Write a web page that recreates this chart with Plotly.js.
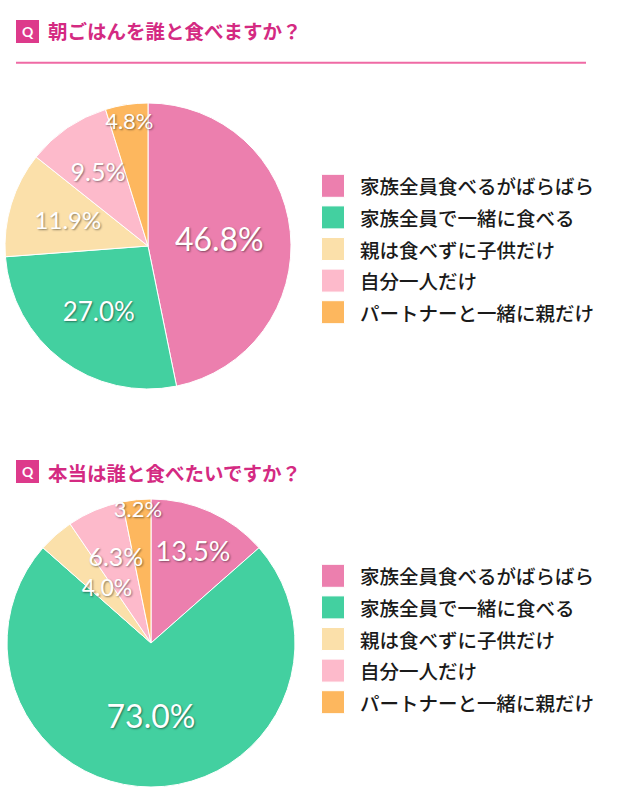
<!DOCTYPE html>
<html>
<head>
<meta charset="utf-8">
<script src="https://cdn.plot.ly/plotly-3.0.1.min.js"></script>
<style>
html,body{margin:0;padding:0;background:#fff;}
#chart{width:618px;height:800px;}
</style>
</head>
<body>
<div id="chart"></div>
<script>
// ---- data ----
const categories = ['家族全員食べるがばらばら', '家族全員で一緒に食べる', '親は食べずに子供だけ', '自分一人だけ', 'パートナーと一緒に親だけ'];
const actualValues = [46.8, 27.0, 11.9, 9.5, 4.8];   // 朝ごはんを誰と食べますか？
const idealValues = [13.5, 73.0, 4.0, 6.3, 3.2];     // 本当は誰と食べたいですか？
const titles = ['朝ごはんを誰と食べますか？', '本当は誰と食べたいですか？'];
const sliceColors = ['#ec7fae', '#43d0a0', '#fbe0aa', '#fdbacb', '#fdb75e'];

// ---- layout helpers ----
const W = 618, H = 800;
const px = v => v / W;
const py = v => (H - v) / H;
const dom = (cx, cy, r) => ({x: [px(cx - r), px(cx + r)], y: [py(cy + r), py(cy - r)]});
const PCT = '%{percent:.1%}';

const legendLabels = categories.map(c => '<span style="font-size:19.5px">' + c + '</span>');

// labelRatios: per slice, null = label drawn by the main pie; a number = label drawn
// by a transparent copy of the pie at that fraction of the radius (pulls the label inward)
function makePies(values, cx, cy, r, sizes, labelRatios, legendId) {
  const base = {
    type: 'pie', labels: legendLabels, values: values,
    sort: false, direction: 'clockwise', rotation: 0,
    textposition: 'inside', insidetextorientation: 'horizontal',
    textfont: {family: 'Lato, sans-serif', color: '#ffffff', size: sizes,
               shadow: '1px 1px 2px rgba(0,0,0,0.45)'}
  };
  const out = [Object.assign({}, base, {
    domain: dom(cx, cy, r),
    marker: {colors: sliceColors, line: {color: '#ffffff', width: 1}},
    texttemplate: labelRatios.map(k => k === null ? PCT : ''),
    hoverinfo: 'label+percent',
    legend: legendId, legendgroup: legendId
  })];
  const ratios = [...new Set(labelRatios.filter(k => k !== null))];
  ratios.forEach((k, j) => {
    out.push(Object.assign({}, base, {
      domain: dom(cx, cy, r * k),
      marker: {colors: values.map(() => 'rgba(0,0,0,0)'), line: {width: 0}},
      texttemplate: labelRatios.map(q => q === k ? PCT : ''),
      hoverinfo: 'skip', showlegend: false,
      legend: legendId, legendgroup: legendId + 'txt' + j
    }));
  });
  return out;
}

const traces = [].concat(
  makePies(actualValues, 148, 246, 143, [32, 26, 24, 25, 22], [null, null, 0.8, 0.8, null], 'legend'),
  makePies(idealValues, 151, 643, 144, [27, 32, 23, 25, 22], [null, null, 0.52, 0.75, null], 'legend2')
);

const legendStyle = {
  font: {family: '"Noto Sans CJK JP", sans-serif', size: 22, color: '#1a1a1a', weight: 500},
  xanchor: 'left', yanchor: 'top',
  itemwidth: 44,
  bgcolor: 'rgba(0,0,0,0)',
  traceorder: 'normal'
};

const titleY = [31, 472];
const badgeTop = [20, 460];
const shapes = [];
const annotations = [];
titles.forEach((t, i) => {
  shapes.push({type: 'rect', xref: 'paper', yref: 'paper',
    x0: px(16), x1: px(39), y0: py(badgeTop[i] + 23), y1: py(badgeTop[i]),
    fillcolor: '#dd3a8b', line: {width: 0}});
  annotations.push({xref: 'paper', yref: 'paper', x: px(27.5), y: py(badgeTop[i] + 11.5),
    xanchor: 'center', yanchor: 'middle', showarrow: false, text: 'Q',
    font: {family: 'Lato, sans-serif', size: 14, color: '#ffffff', weight: 700}});
  annotations.push({xref: 'paper', yref: 'paper', x: px(46), y: py(titleY[i]),
    xanchor: 'left', yanchor: 'middle', showarrow: false, text: t,
    font: {family: '"Noto Sans CJK JP", sans-serif', size: 19.5, color: '#d42a82', weight: 700}});
});
shapes.push({type: 'line', xref: 'paper', yref: 'paper', x0: px(16), x1: px(586),
  y0: py(62.7), y1: py(62.7), line: {color: '#ef6aa5', width: 2}});

const layout = {
  width: W, height: H,
  margin: {l: 0, r: 0, t: 0, b: 0},
  paper_bgcolor: '#ffffff',
  showlegend: true,
  legend: Object.assign({}, legendStyle, {x: px(306), y: py(165)}),
  legend2: Object.assign({}, legendStyle, {x: px(306), y: py(555)}),
  shapes: shapes,
  annotations: annotations
};

Plotly.newPlot('chart', traces, layout, {displayModeBar: false, staticPlot: true}).then(() => {
  document.querySelectorAll('.legendpie').forEach(p => p.setAttribute('d', 'M11.5,11.5H-11.5V-11.5H11.5Z'));
  // show slice labels at their specified size (the reference lets small labels overflow their slices)
  document.querySelectorAll('.slicetext text').forEach(t => {
    const tr = t.getAttribute('transform');
    if (tr) t.setAttribute('transform', tr.replace(/scale\([^)]*\)/, ''));
  });
});
</script>
</body>
</html>
